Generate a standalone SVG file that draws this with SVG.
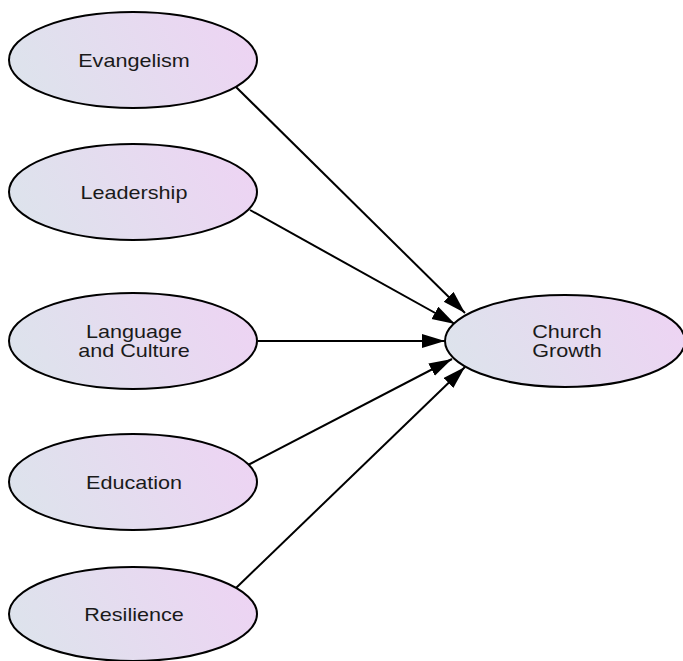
<svg xmlns="http://www.w3.org/2000/svg" width="683" height="661" viewBox="0 0 683 661">
  <defs>
    <linearGradient id="g" x1="0" y1="0.6" x2="1" y2="0.4">
      <stop offset="0" stop-color="#dde3ec"/>
      <stop offset="1" stop-color="#edd4f3"/>
    </linearGradient>
    <marker id="arr" markerUnits="userSpaceOnUse" markerWidth="26" markerHeight="16" refX="23" refY="7" orient="auto">
      <path d="M0,0 L23,7 L0,14 z" fill="#000"/>
    </marker>
  </defs>
  <style>
    .n ellipse { fill: url(#g); stroke: #000; stroke-width: 2; }
    .n text { font-family: "Liberation Sans", Arial, sans-serif; font-size: 18px; fill: #1a1a1a; text-anchor: middle; }
    .e line { stroke: #000; stroke-width: 2; marker-end: url(#arr); }
  </style>
  <rect width="683" height="661" fill="#fff"/>
  <g id="edges" class="e">
    <line x1="236" y1="87" x2="465" y2="313"/>
    <line x1="250" y1="210" x2="455" y2="324"/>
    <line x1="258" y1="341" x2="445" y2="341"/>
    <line x1="248" y1="465" x2="452" y2="359"/>
    <line x1="236" y1="588" x2="465" y2="367"/>
  </g>
  <g id="evangelism" class="n">
    <ellipse cx="133" cy="60" rx="124" ry="48"/>
    <text transform="translate(134,67) scale(1.2,1)">Evangelism</text>
  </g>
  <g id="leadership" class="n">
    <ellipse cx="133" cy="192" rx="124" ry="48"/>
    <text transform="translate(134,199) scale(1.2,1)">Leadership</text>
  </g>
  <g id="language" class="n">
    <ellipse cx="133" cy="341" rx="124" ry="48"/>
    <text transform="translate(134,338) scale(1.2,1)">Language</text>
    <text transform="translate(134,357) scale(1.2,1)">and Culture</text>
  </g>
  <g id="education" class="n">
    <ellipse cx="133" cy="482" rx="124" ry="48"/>
    <text transform="translate(134,489) scale(1.2,1)">Education</text>
  </g>
  <g id="resilience" class="n">
    <ellipse cx="133" cy="614" rx="124" ry="47"/>
    <text transform="translate(134,621) scale(1.2,1)">Resilience</text>
  </g>
  <g id="church" class="n">
    <ellipse cx="565" cy="341" rx="120" ry="46"/>
    <text transform="translate(567,338) scale(1.2,1)">Church</text>
    <text transform="translate(567,357) scale(1.2,1)">Growth</text>
  </g>
</svg>
